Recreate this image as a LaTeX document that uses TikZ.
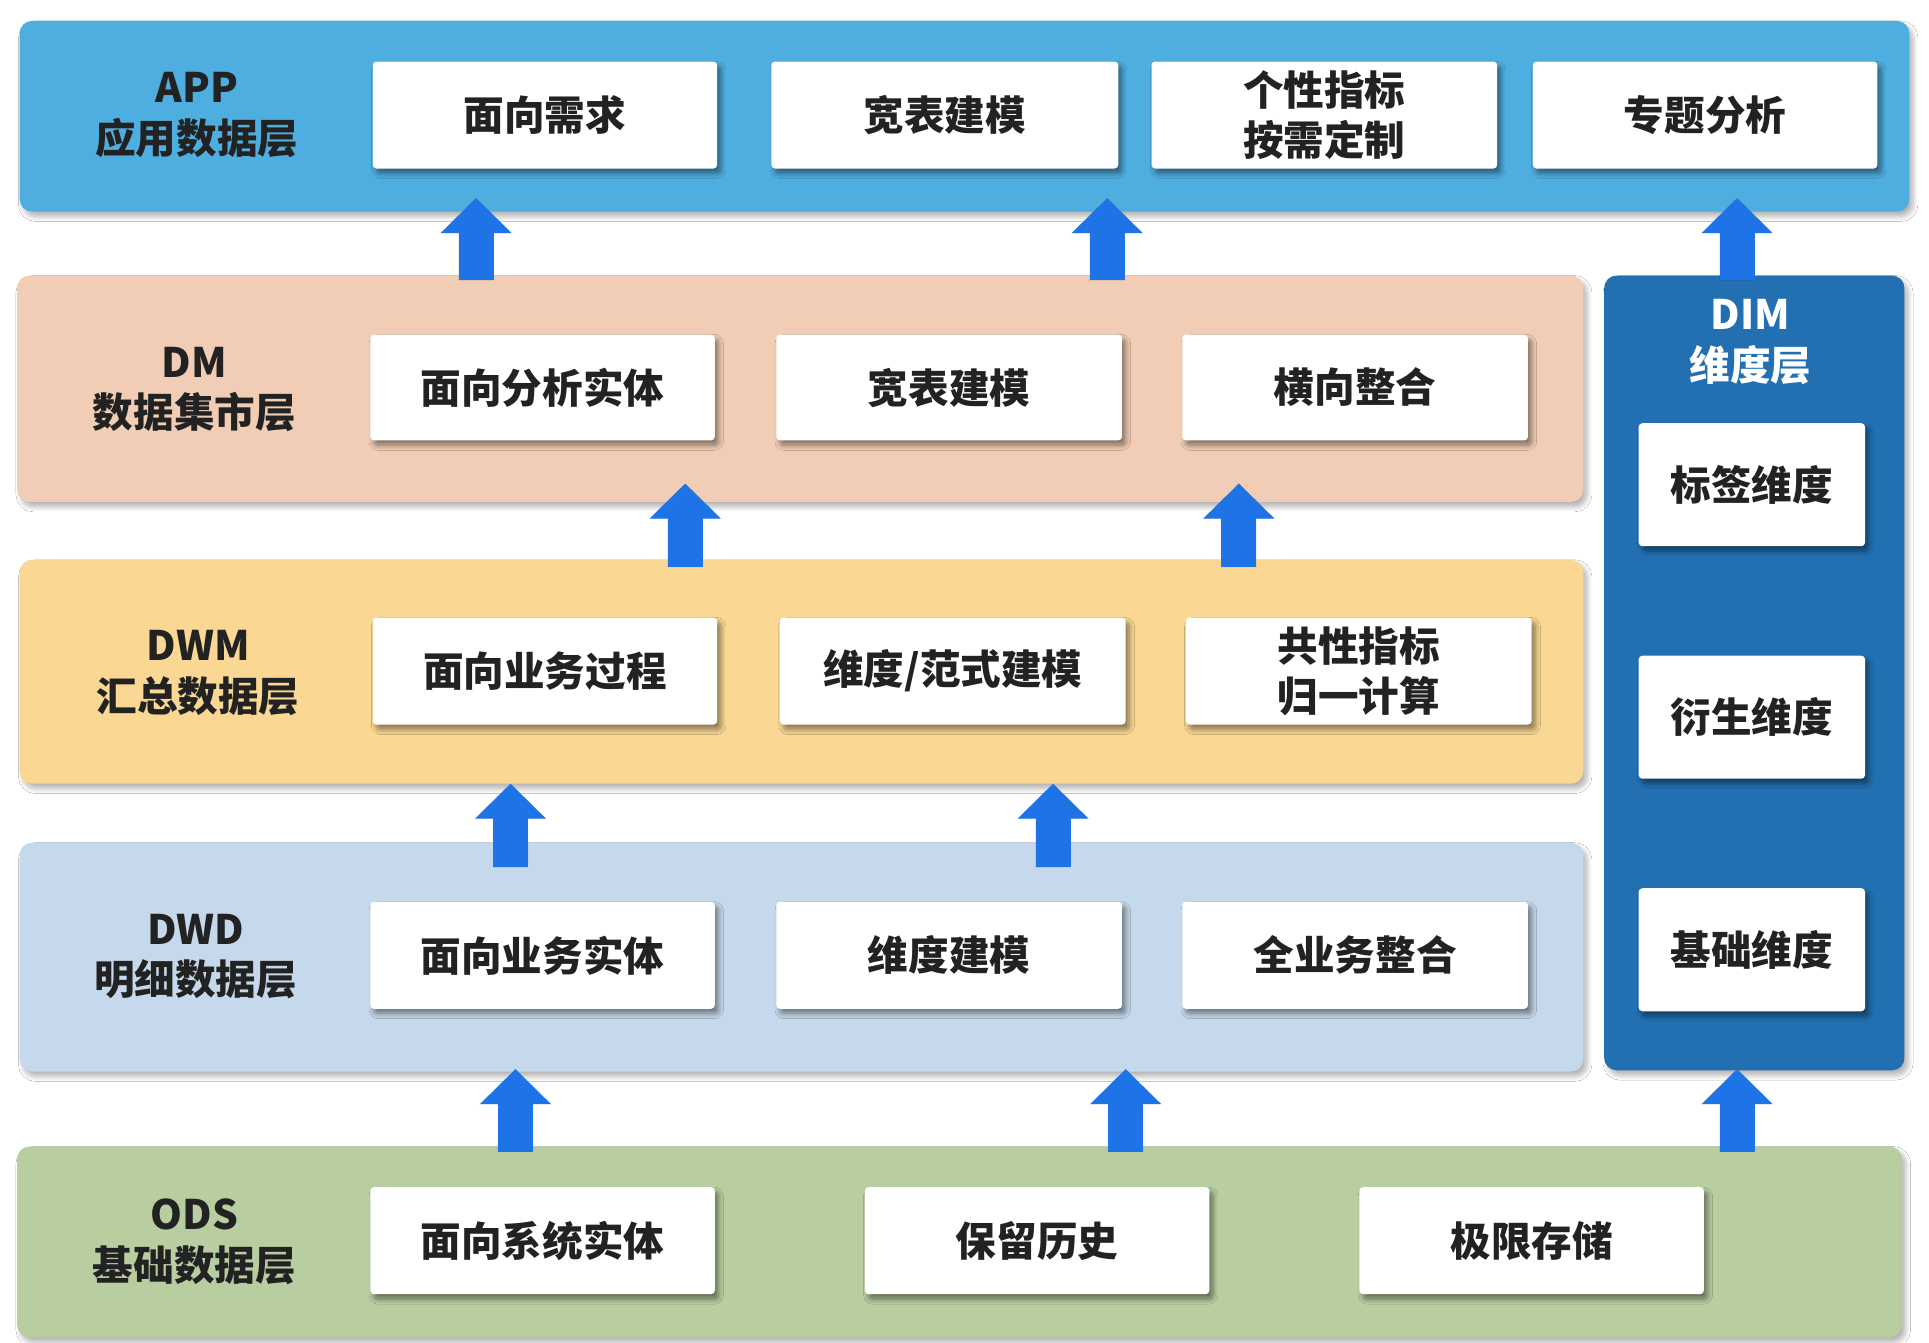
\documentclass[tikz,border=0pt]{standalone}
\usepackage{fontspec}
\setmainfont{Noto Sans CJK SC}
\usetikzlibrary{shadows,shadows.blur,arrows.meta,calc}
\definecolor{appc}{HTML}{4FAEE0}
\definecolor{dmc}{HTML}{F1CDB5}
\definecolor{dwmc}{HTML}{FAD792}
\definecolor{dwdc}{HTML}{C6D8EB}
\definecolor{odsc}{HTML}{B8CDA0}
\definecolor{dimc}{HTML}{2270B1}
\definecolor{arrc}{HTML}{1E74E6}
\definecolor{txt}{HTML}{222222}
\begin{document}
\begin{tikzpicture}[x=1pt,y=-1pt,
  band/.style={draw=none, rounded corners=10pt, anchor=north west, inner sep=0pt, outer sep=0pt,
    blur shadow={shadow xshift=3pt, shadow yshift=-4pt, shadow blur radius=4pt, shadow blur steps=8, shadow opacity=30}},
  wbox/.style={fill=white, rounded corners=3pt, anchor=north west, inner sep=0pt, outer sep=0pt,
    text=txt, font=\fontsize{33pt}{41pt}\selectfont\bfseries, align=center,
    blur shadow={shadow xshift=3pt, shadow yshift=-4pt, shadow blur radius=4pt, shadow blur steps=8, shadow opacity=45}},
  lbl/.style={text=txt, font=\fontsize{33pt}{41pt}\selectfont\bfseries, align=center},
  uparrow/.style={draw=arrc, line width=28.5pt, -{Triangle[width=56pt,length=28.5pt]}},
  ushadow/.style={draw=black, line width=28.5pt, -{Triangle[width=56pt,length=28.5pt]}},
]
\useasboundingbox (0,0) rectangle (1568,1091);
\fill[white] (0,0) rectangle (1568,1091);

% bands
\node[band, fill=appc, minimum width=1536pt, minimum height=155pt] (app) at (16,17) {};
\node[band, fill=dmc,  minimum width=1273pt, minimum height=184pt] (dm)  at (14,224) {};
\node[band, fill=dwmc, minimum width=1271pt, minimum height=182pt] (dwm) at (16,455) {};
\node[band, fill=dwdc, minimum width=1271pt, minimum height=186pt] (dwd) at (16,685) {};
\node[band, fill=odsc, minimum width=1532pt, minimum height=155pt] (ods) at (14,932) {};
\node[band, fill=dimc, minimum width=244pt,  minimum height=646pt] (dim) at (1304,224) {};

% layer labels
\node[lbl] (appl) at (160,93.5) {APP\\应用数据层};
\node[lbl] (dml)  at (158,316.5) {DM\\数据集市层};
\node[lbl] (dwml) at (161,547) {DWM\\汇总数据层};
\node[lbl] (dwdl) at (159,777.5) {DWD\\明细数据层};
\node[lbl] (odsl) at (158,1009.5) {ODS\\基础数据层};
\node[lbl, text=white] (diml) at (1423,278) {DIM\\维度层};

% APP boxes
\node[wbox, minimum width=280pt, minimum height=87pt] (a1) at (303,50) {面向需求};
\node[wbox, minimum width=282pt, minimum height=87pt] (a2) at (627,50) {宽表建模};
\node[wbox, minimum width=281pt, minimum height=87pt] (a3) at (936,50) {个性指标\\按需定制};
\node[wbox, minimum width=280pt, minimum height=87pt] (a4) at (1246,50) {专题分析};
% DM boxes
\node[wbox, minimum width=280pt, minimum height=86pt] (m1) at (301,272) {面向分析实体};
\node[wbox, minimum width=281pt, minimum height=86pt] (m2) at (631,272) {宽表建模};
\node[wbox, minimum width=281pt, minimum height=86pt] (m3) at (961,272) {横向整合};
% DWM boxes
\node[wbox, minimum width=280pt, minimum height=87pt] (w1) at (303,502) {面向业务过程};
\node[wbox, minimum width=281pt, minimum height=87pt] (w2) at (634,502) {维度/范式建模};
\node[wbox, minimum width=281pt, minimum height=87pt] (w3) at (964,502) {共性指标\\归一计算};
% DWD boxes
\node[wbox, minimum width=280pt, minimum height=87pt] (d1) at (301,733) {面向业务实体};
\node[wbox, minimum width=281pt, minimum height=87pt] (d2) at (631,733) {维度建模};
\node[wbox, minimum width=281pt, minimum height=87pt] (d3) at (961,733) {全业务整合};
% ODS boxes
\node[wbox, minimum width=280pt, minimum height=87pt] (o1) at (301,965) {面向系统实体};
\node[wbox, minimum width=280pt, minimum height=87pt] (o2) at (703,965) {保留历史};
\node[wbox, minimum width=280pt, minimum height=87pt] (o3) at (1105,965) {极限存储};
% DIM boxes
\node[wbox, minimum width=184pt, minimum height=100pt] (i1) at (1332,344) {标签维度};
\node[wbox, minimum width=184pt, minimum height=100pt] (i2) at (1332,533) {衍生维度};
\node[wbox, minimum width=184pt, minimum height=100pt] (i3) at (1332,722) {基础维度};

% arrow columns
\coordinate (c1) at (387,0);
\coordinate (c2) at (900,0);
\coordinate (c3) at (1412,0);
\coordinate (c4) at (557,0);
\coordinate (c5) at (1007,0);
\coordinate (c6) at (415,0);
\coordinate (c7) at (856,0);
\coordinate (c8) at (419,0);
\coordinate (c9) at (915,0);

\newcommand\myarrows[1]{%
  \draw[#1] ($(c1 |- dm.north)+(0,4)$) -- ($(c1 |- app.south)+(0,-11)$);
  \draw[#1] ($(c2 |- dm.north)+(0,4)$) -- ($(c2 |- app.south)+(0,-11)$);
  \draw[#1] ($(c3 |- dim.north)+(0,4)$) -- ($(c3 |- app.south)+(0,-11)$);
  \draw[#1] ($(c4 |- dwm.north)+(0,6)$) -- ($(c4 |- dm.south)+(0,-15)$);
  \draw[#1] ($(c5 |- dwm.north)+(0,6)$) -- ($(c5 |- dm.south)+(0,-15)$);
  \draw[#1] ($(c6 |- dwd.north)+(0,20)$) -- ($(c6 |- dwm.south)+(0,0)$);
  \draw[#1] ($(c7 |- dwd.north)+(0,20)$) -- ($(c7 |- dwm.south)+(0,0)$);
  \draw[#1] ($(c8 |- ods.north)+(0,4)$) -- ($(c8 |- dwd.south)+(0,-2)$);
  \draw[#1] ($(c9 |- ods.north)+(0,4)$) -- ($(c9 |- dwd.south)+(0,-2)$);
  \draw[#1] ($(c3 |- ods.north)+(0,4)$) -- ($(c3 |- dim.south)+(0,-1)$);
}
\begin{scope}[transparency group, opacity=0.2, shift={(3,3)}]
  \myarrows{ushadow}
\end{scope}
\myarrows{uparrow}
\end{tikzpicture}
\end{document}
